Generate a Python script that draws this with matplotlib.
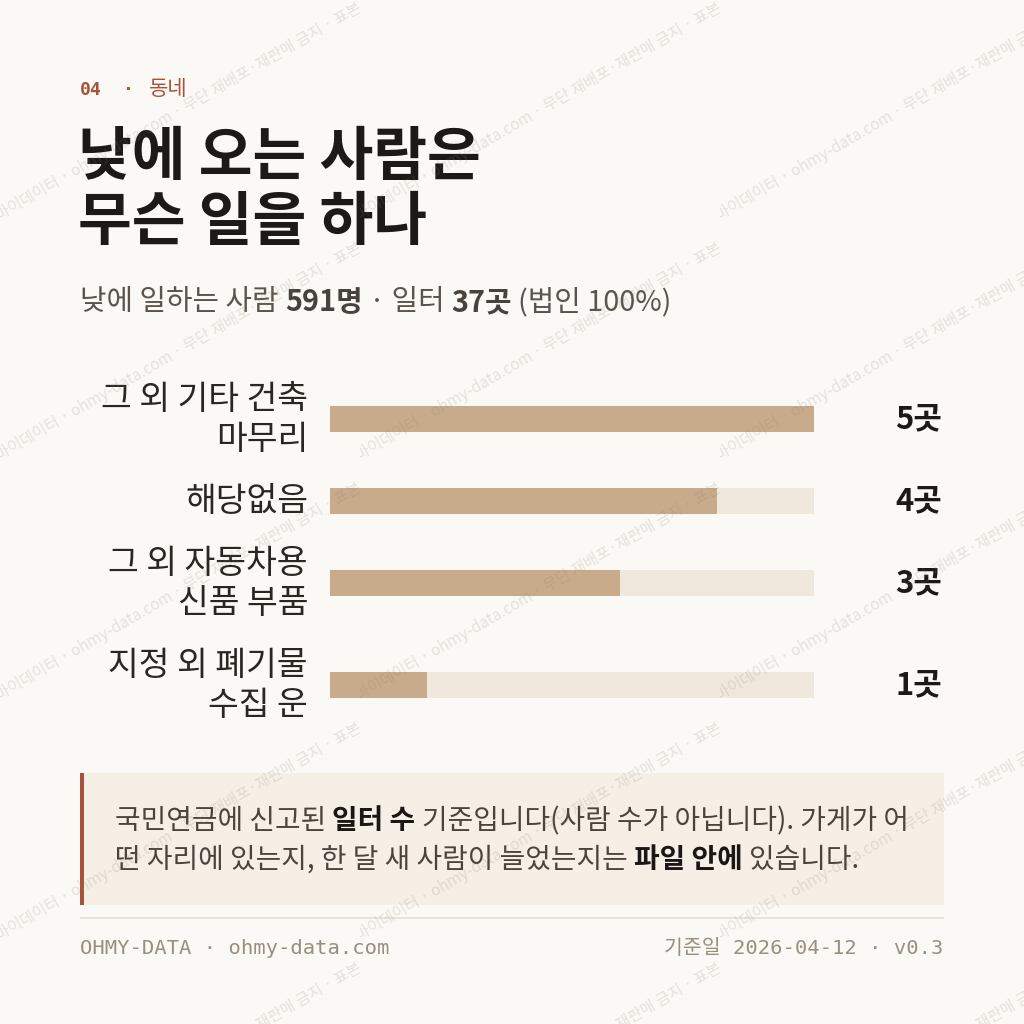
import matplotlib
matplotlib.use("Agg")
import matplotlib.pyplot as plt
from matplotlib.patches import Rectangle

# ---------------- data ----------------
categories = ["그 외 기타 건축\n마무리", "해당없음", "그 외 자동차용\n신품 부품", "지정 외 폐기물\n수집 운"]
values = [5, 4, 3, 1]
unit = "곳"
max_value = 5

eyebrow_num = "04"
eyebrow_txt = "동네"
title_lines = ["낮에 오는 사람은", "무슨 일을 하나"]
subtitle_segs = [("낮에 일하는 사람 ", "normal"), ("591명", "bold"), (" · 일터 ", "normal"),
                 ("37곳", "bold"), (" (법인 100%)", "normal")]
note_line1 = [("국민연금에 신고된 ", "normal"), ("일터 수", "bold"),
              (" 기준입니다(사람 수가 아닙니다). 가게가 어", "normal")]
note_line2 = [("떤 자리에 있는지, 한 달 새 사람이 늘었는지는 ", "normal"), ("파일 안에", "bold"),
              (" 있습니다.", "normal")]
footer_left = "OHMY-DATA · ohmy-data.com"
footer_right = "기준일 2026-04-12 · v0.3"
watermark = "오마이데이터 · ohmy-data.com · 무단 재배포·재판매 금지 · 표본"

# ---------------- style ----------------
W = H = 1024
DPI = 100
PT = 72.0 / DPI
BG = "#fbf9f5"
KR = ["Noto Sans CJK KR", "DejaVu Sans"]
MONO = ["DejaVu Sans Mono", "Noto Sans CJK KR"]
RUST = "#a5533b"
FILL = "#c8ab8a"
TRACK = "#f0e8dc"

fig = plt.figure(figsize=(W / DPI, H / DPI), dpi=DPI)
fig.patch.set_facecolor(BG)

ov = fig.add_axes([0, 0, 1, 1], zorder=0)
ov.set_xlim(0, W)
ov.set_ylim(H, 0)
ov.axis("off")
R = fig.canvas.get_renderer()


def adv(s, size, weight, family):
    kw = dict(fontsize=size * PT, fontweight=weight, family=family)
    t1 = ov.text(0, 0, "|" + s + "|", **kw)
    t2 = ov.text(0, 0, "||", **kw)
    w = t1.get_window_extent(R).width - t2.get_window_extent(R).width
    t1.remove()
    t2.remove()
    return w


def rich(x, y, segs, size, colors, family=KR, ha="left"):
    widths = [adv(s, size, wt, family) for s, wt in segs]
    cx = x - sum(widths) if ha == "right" else x
    for (s, wt), w in zip(segs, widths):
        lead = len(s) - len(s.lstrip(" "))
        off = adv(" " * lead, size, wt, family) if lead else 0
        ov.text(cx + off, y, s.strip(" "), fontsize=size * PT, fontweight=wt, family=family,
                color=colors[wt], ha="left", va="center")
        cx += w


# eyebrow
ov.text(80, 90, eyebrow_num, fontsize=18 * PT, fontweight="bold", family=MONO, color=RUST,
        ha="left", va="center")
ov.text(128, 90, "·", fontsize=18 * PT, fontweight="bold", family=MONO, color=RUST,
        ha="center", va="center")
ov.text(149, 89, eyebrow_txt, fontsize=21 * PT, family=KR, color=RUST, ha="left", va="center")

# title
for i, line in enumerate(title_lines):
    ov.text(78, 158 + i * 65, line, fontsize=58.5 * PT, fontweight="bold", family=KR,
            color="#1c1917", ha="left", va="center")

# subtitle
rich(80, 302, subtitle_segs, 28.8, {"normal": "#5a544d", "bold": "#48423c"})

# ---------------- bars ----------------
LINE_H = 40
GAP = 22
top = 378.5
centers = []
for c in categories:
    h = LINE_H * len(c.split("\n"))
    centers.append(top + h / 2)
    top += h + GAP

Y0, Y1 = 370, 740
bx = fig.add_axes([330 / W, 1 - Y1 / H, (814 - 330) / W, (Y1 - Y0) / H], zorder=1)
bx.set_xlim(0, max_value)
bx.set_ylim(Y1, Y0)
bx.axis("off")
bx.patch.set_alpha(0)
bx.barh(centers, [max_value] * len(values), height=26, color=TRACK, linewidth=0)
bx.barh(centers, values, height=26, color=FILL, linewidth=0)

for c, yc, v in zip(categories, centers, values):
    lines = c.split("\n")
    n = len(lines)
    for i, ln in enumerate(lines):
        ov.text(308, yc + (i - (n - 1) / 2) * LINE_H + 1, ln, fontsize=33.5 * PT, family=KR,
                color="#2a2622", ha="right", va="center")
    ov.text(942, yc + 1, f"{v}{unit}", fontsize=31 * PT, fontweight="bold", family=KR,
            color="#1c1917", ha="right", va="center")

# ---------------- note box ----------------
ov.add_patch(Rectangle((80, 773), 864, 132, facecolor="#f5efe6", edgecolor="none"))
ov.add_patch(Rectangle((80, 773), 4, 132, facecolor=RUST, edgecolor="none"))
note_cols = {"normal": "#4a443d", "bold": "#1a1714"}
rich(115, 821, note_line1, 27.8, note_cols)
rich(115, 860, note_line2, 27.8, note_cols)

# separator + footer
ov.plot([80, 944], [918, 918], color="#e8e2d8", lw=2 * PT, solid_capstyle="butt")
ov.text(80, 949, footer_left, fontsize=20.5 * PT, family=MONO, color="#9a8e80",
        ha="left", va="center")
ov.text(943, 949, footer_right, fontsize=20.5 * PT, family=MONO, color="#9a8e80",
        ha="right", va="center")

# ---------------- watermark ----------------
wm = fig.add_axes([0, 0, 1, 1], zorder=10)
wm.set_xlim(0, W)
wm.set_ylim(H, 0)
wm.axis("off")
wm.patch.set_alpha(0)
for tx in [0, 360, 720]:
    for ty in [-240, 0, 240, 480, 720, 960]:
        t = wm.text(tx - 13, ty + 228, watermark, fontsize=15.5 * PT, family=KR,
                    color="#8c8070", alpha=0.2, rotation=30, rotation_mode="anchor",
                    ha="left", va="baseline", clip_on=True)
        t.set_clip_path(Rectangle((tx, ty), 360, 240, transform=wm.transData))

fig.savefig("out.png", dpi=DPI, facecolor=BG)
